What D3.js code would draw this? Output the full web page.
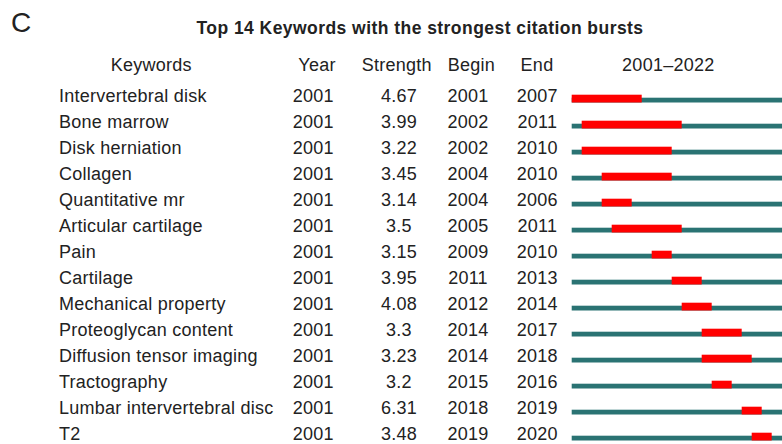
<!DOCTYPE html>
<html>
<head>
<meta charset="utf-8">
<script src="https://cdn.jsdelivr.net/npm/d3@7"></script>
<style>
  html, body { margin: 0; padding: 0; background: #fff; }
  svg { display: block; font-family: "Liberation Sans", Arial, Helvetica, sans-serif; }
</style>
</head>
<body>
<svg id="chart" width="782" height="444"></svg>
<script>
// Citation burst table data
const keywords = [
  "Intervertebral disk", "Bone marrow", "Disk herniation", "Collagen",
  "Quantitative mr", "Articular cartilage", "Pain", "Cartilage",
  "Mechanical property", "Proteoglycan content", "Diffusion tensor imaging",
  "Tractography", "Lumbar intervertebral disc", "T2"
];
const years     = [2001, 2001, 2001, 2001, 2001, 2001, 2001, 2001, 2001, 2001, 2001, 2001, 2001, 2001];
const strengths = ["4.67", "3.99", "3.22", "3.45", "3.14", "3.5", "3.15", "3.95", "4.08", "3.3", "3.23", "3.2", "6.31", "3.48"];
const begins    = [2001, 2002, 2002, 2004, 2004, 2005, 2009, 2011, 2012, 2014, 2014, 2015, 2018, 2019];
const ends      = [2007, 2011, 2010, 2010, 2006, 2011, 2010, 2013, 2014, 2017, 2018, 2016, 2019, 2020];
const headers   = ["Keywords", "Year", "Strength", "Begin", "End", "2001\u20132022"];
const periodStart = 2001, periodEnd = 2022;

const rows = keywords.map((k, i) => ({
  keyword: k, year: years[i], strength: strengths[i], begin: begins[i], end: ends[i]
}));

const svg = d3.select("#chart");
const textColor = "#222";
const teal = "#2a7373";
const red = "#ff0000";

// Panel letter
svg.append("text")
  .attr("x", 11).attr("y", 32)
  .attr("font-size", 28).attr("font-weight", 300)
  .attr("fill", textColor)
  .text("C");

// Title
svg.append("text")
  .attr("x", 420).attr("y", 34)
  .attr("text-anchor", "middle")
  .attr("font-size", 17.5).attr("font-weight", "bold")
  .attr("letter-spacing", 0.45)
  .attr("fill", textColor)
  .text("Top 14 Keywords with the strongest citation bursts");

// Row layout
const y = d3.scalePoint().domain(d3.range(rows.length)).range([102, 102 + 26 * (rows.length - 1)]);
const x = d3.scaleLinear().domain([periodStart, periodEnd + 1]).range([571.7, 791.7]);

const fontSize = 18, ls = 0.25;

// Header row
const headerX = [151.3, 317, 396.7, 471.3, 537, 668.3];
svg.append("g").selectAll("text").data(headers).join("text")
  .attr("x", (d, i) => headerX[i])
  .attr("y", 71)
  .attr("text-anchor", "middle")
  .attr("font-size", fontSize).attr("letter-spacing", ls)
  .attr("fill", textColor)
  .text(d => d);

// Table columns
const cols = [
  { key: "keyword",  x: 59,    anchor: "start" },
  { key: "year",     x: 313.3, anchor: "middle" },
  { key: "strength", x: 399,   anchor: "middle" },
  { key: "begin",    x: 468,   anchor: "middle" },
  { key: "end",      x: 537.3, anchor: "middle" }
];
const rowG = svg.append("g").selectAll("g").data(rows).join("g");
cols.forEach(c => {
  rowG.append("text")
    .attr("x", c.x)
    .attr("y", (d, i) => y(i))
    .attr("text-anchor", c.anchor)
    .attr("font-size", fontSize).attr("letter-spacing", ls)
    .attr("fill", textColor)
    .text(d => d[c.key]);
});

// Timeline bars: full period in teal, burst span in red
rowG.append("rect")
  .attr("x", x(periodStart))
  .attr("width", x(periodEnd + 1) - x(periodStart))
  .attr("y", (d, i) => y(i) - 4.3)
  .attr("height", 4.8)
  .attr("fill", teal);

rowG.append("rect")
  .attr("x", d => x(d.begin))
  .attr("width", d => x(d.end + 1) - x(d.begin))
  .attr("y", (d, i) => y(i) - 7.3)
  .attr("height", 7.8)
  .attr("fill", red);
</script>
</body>
</html>
